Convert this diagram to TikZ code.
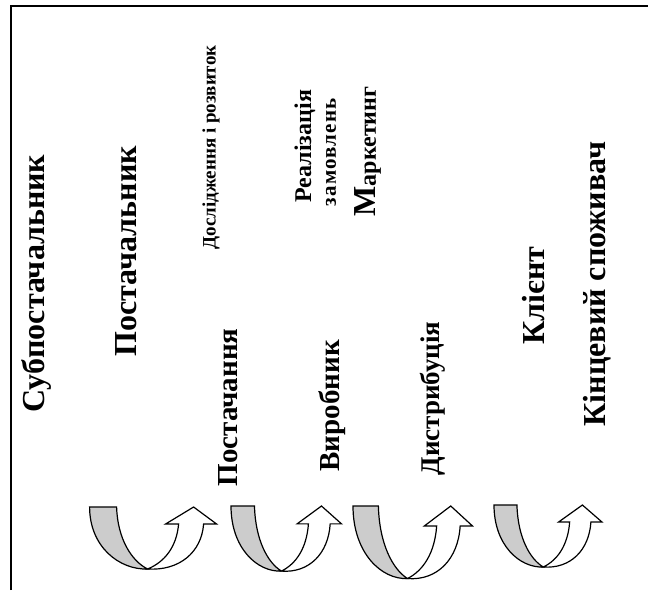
\documentclass[tikz,border=0pt]{standalone}
\usepackage{fontspec}
\setmainfont{Liberation Serif}
\usepackage{tikz}

% one bent ribbon arrow: shaded back part going down, white front part going up
\newcommand\uturn[3]{%
	\begin{scope}[shift={(#1)},xscale=#2,yscale=#3]
		\draw[fill=black!20] (0,0) -- (27,0) .. controls (28,32) and (42,54) .. (58,62)
			.. controls (30,63) and (0,40) .. (0,0) -- cycle;
		\draw[fill=white] (58,62) .. controls (90,64) and (112,45) .. (114,17) -- (127,17)
			-- (104,0) -- (76,17) -- (89,17) .. controls (87,40) and (75,55) .. (58,62) -- cycle;
	\end{scope}}

\tikzset{
	vlabel/.style={rotate=90, anchor=west, inner sep=0pt, font=\bfseries}
}

\begin{document}
\begin{tikzpicture}[x=1pt, y=-1pt, line width=1.2pt, line join=miter]
			%%%%% START %%%%%
			\useasboundingbox (0,0) rectangle (648,590);
			
			% frame
			\draw (11,590) -- (11,6) -- (648,6);
			
			% chain members
			\node[vlabel, font=\bfseries\fontsize{32}{32}\selectfont] (subsup) at (36,413) {Субпостачальник};
			\node[vlabel, font=\bfseries\fontsize{32}{32}\selectfont] (sup) at (126,357) {Постачальник};
			\node[vlabel, font=\bfseries\fontsize{29}{29}\selectfont] (maker) at (332,472) {Виробник};
			\node[vlabel, font=\bfseries\fontsize{32}{32}\selectfont] (client) at (534,345) {Клієнт};
			\node[vlabel, font=\bfseries\fontsize{32}{32}\selectfont] (endcons) at (597,427) {Кінцевий споживач};
			
			% processes
			\node[vlabel, font=\bfseries\fontsize{29}{29}\selectfont] (supply) at (228,487) {Постачання};
			\node[vlabel, font=\bfseries\fontsize{27}{27}\selectfont] (distr) at (433,476) {Дистрибуція};
			\node[vlabel, font=\bfseries\fontsize{19}{19}\selectfont] (rnd) at (211,250) {Дослідження і розвиток};
			\node[vlabel, font=\bfseries\fontsize{24}{24}\selectfont] (orders) at (305,203) {Реалізація};
			\node[vlabel, font=\bfseries\fontsize{21}{21}\selectfont\addfontfeature{LetterSpace=6}] (orders2) at (331,207) {замовлень};
			\node[vlabel, font=\bfseries\fontsize{24}{24}\selectfont] (mkt) at (368,217) {{\fontsize{32}{32}\selectfont М}аркетинг};
			
			% arrows along the bottom
			\uturn{89.6,507}{1}{1}
			\uturn{231,506}{.87}{1.05}
			\uturn{353,506}{.94}{1.17}
			\uturn{494,505}{.85}{1}
			
			%%%%% END %%%%%
\end{tikzpicture}
\end{document}
